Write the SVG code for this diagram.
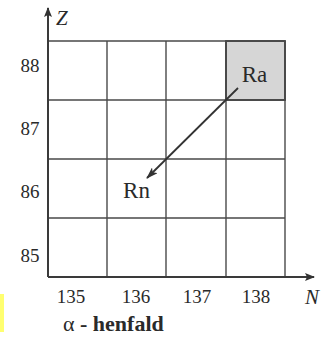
<svg xmlns="http://www.w3.org/2000/svg" width="331" height="343" viewBox="0 0 331 343">
<style>
.grid{stroke:#4a4a4a;stroke-width:1.4;fill:none}
.axis{stroke:#3a3a3a;stroke-width:2;fill:none}
.serif{font-family:'Liberation Serif','Times New Roman',Tinos,'DejaVu Serif',serif}
.num{font-size:19px;fill:#2a2a2a;text-anchor:middle}
.lbl{font-size:23px;fill:#2a2a2a;text-anchor:middle}
.ax{font-size:21px;font-style:italic;fill:#2a2a2a}
</style>
<defs>
<marker id="ah" viewBox="0 0 12 8" refX="11" refY="4" markerWidth="12" markerHeight="8" markerUnits="userSpaceOnUse" orient="auto">
<path d="M0,0 L12,4 L0,8 L3,4 Z" fill="#333"/>
</marker>
<marker id="axh" viewBox="0 0 10 8" refX="9" refY="4" markerWidth="10" markerHeight="8" markerUnits="userSpaceOnUse" orient="auto">
<path d="M0,0 L10,4 L0,8 L2,4 Z" fill="#333"/>
</marker>
</defs>
<rect x="0" y="0" width="331" height="343" fill="#fff"/>
<rect x="0" y="294" width="4" height="38" fill="#ffff70"/>
<g id="grid">
<rect id="ra-cell" x="226" y="41" width="59" height="59" fill="#d6d6d6" stroke="#3a3a3a" stroke-width="1.8"/>
<path class="grid" d="M48,41 H285 M48,100 H285 M48,159 H285 M48,218 H285 M107,41 V277 M166,41 V277 M226,41 V277 M285,41 V277"/>
</g>
<g id="axes">
<line class="axis" x1="48" y1="277" x2="48" y2="8" marker-end="url(#axh)"/>
<line class="axis" x1="48" y1="277" x2="314" y2="277" marker-end="url(#axh)"/>
<text class="ax serif" x="56" y="25">Z</text>
<text class="ax serif" x="305" y="304">N</text>
</g>
<g id="ylabels">
<text class="num serif" x="30" y="72">88</text>
<text class="num serif" x="30" y="135">87</text>
<text class="num serif" x="30" y="198">86</text>
<text class="num serif" x="30" y="262">85</text>
</g>
<g id="xlabels">
<text class="num serif" x="71" y="303">135</text>
<text class="num serif" x="136" y="303">136</text>
<text class="num serif" x="197" y="303">137</text>
<text class="num serif" x="256" y="303">138</text>
</g>
<g id="Ra"><text class="lbl serif" x="254.5" y="82">Ra</text></g>
<g id="Rn"><text class="lbl serif" x="136.5" y="198">Rn</text></g>
<g id="connectors">
<line x1="238" y1="88" x2="147" y2="178" stroke="#333" stroke-width="1.8" marker-end="url(#ah)"/>
</g>
<g id="caption">
<text class="serif" x="63" y="331" font-size="22px" fill="#2a2a2a"><tspan>α</tspan><tspan font-weight="bold"> - henfald</tspan></text>
</g>
</svg>
